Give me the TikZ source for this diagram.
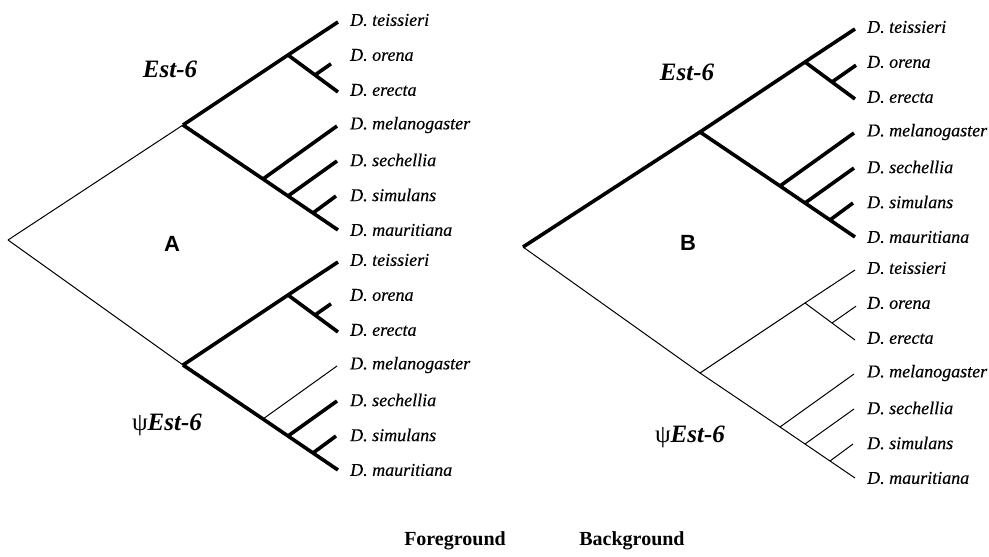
\documentclass[tikz,border=0pt]{standalone}
\usepackage{fontspec}
\setmainfont{Liberation Serif}
\newfontfamily\panelfont{Liberation Sans}
\newfontfamily\taxonfont[FakeBold=0.4]{Liberation Serif}

\tikzset{
  thickbr/.style={line width=3.6pt},
  thinbr/.style={line width=1pt},
  taxon/.style={anchor=west, inner sep=0pt, font=\fontsize{18}{18}\selectfont\taxonfont\itshape},
  gene/.style={inner sep=0pt, font=\fontsize{25}{25}\selectfont\bfseries\itshape},
  panel/.style={inner sep=0pt, font=\fontsize{22}{22}\selectfont\panelfont\bfseries},
  legend/.style={inner sep=0pt, font=\fontsize{20}{20}\selectfont\bfseries}
}

% One seven-taxon clade: #1 name prefix, #2 position of its basal node,
% #3 branch style, #4 style of the melanogaster branch, #5 length of the orena twig
\newcommand\cladeseven[5]{%
  \begin{scope}[shift={#2}]
    \coordinate (#1N)  at (0,0);
    \coordinate (#1U)  at (105,-70);
    \coordinate (#1OE) at (132,-50);
    \coordinate (#1t1) at (155,-103);
    \coordinate (#1t2) at ($(#1OE)+(#5,-0.7*#5)$);
    \coordinate (#1t3) at (155,-33);
    \coordinate (#1M1) at (80,54);
    \coordinate (#1M2) at (105,71);
    \coordinate (#1M3) at (130,88);
    \coordinate (#1t4) at (154,1);
    \coordinate (#1t5) at (154,36);
    \coordinate (#1t6) at (153,71);
    \coordinate (#1t7) at (155,105);
    \draw[#3] (#1N) -- (#1U) -- (#1t1);
    \draw[#3] (#1U) -- (#1OE) -- (#1t3);
    \draw[#3] (#1OE) -- (#1t2);
    \draw[#3] (#1N) -- (#1M1) -- (#1M2) -- (#1M3) -- (#1t7);
    \draw[#4] (#1M1) -- (#1t4);
    \draw[#3] (#1M2) -- (#1t5);
    \draw[#3] (#1M3) -- (#1t6);
    \node[taxon] (#1L1) at (167,-105) {D. teissieri};
    \node[taxon] (#1L2) at (167,-70)  {D. orena};
    \node[taxon] (#1L3) at (167,-35)  {D. erecta};
    \node[taxon] (#1L4) at (167,0)    {D. melanogaster};
    \node[taxon] (#1L5) at (167,35)   {D. sechellia};
    \node[taxon] (#1L6) at (167,70)   {D. simulans};
    \node[taxon] (#1L7) at (167,105)  {D. mauritiana};
  \end{scope}}

\usetikzlibrary{calc}

\begin{document}
\begin{tikzpicture}[x=1pt, y=-1pt]
  \useasboundingbox (0,0) rectangle (989,557);

  % Panel A: foreground branches on both gene copies
  \cladeseven{At}{(183,125)}{thickbr}{thickbr}{16}
  \cladeseven{Ab}{(183,365)}{thickbr}{thinbr}{16}
  \coordinate (Aroot) at (8,240);
  \draw[thinbr] (Aroot) -- (AtN);
  \draw[thinbr] (Aroot) -- (AbN);
  \node[gene]  (AgeneT) at (170,69)  {Est-6};
  \node[gene]  (AgeneB) at (167,425) {{\normalfont\mdseries\upshape ψ}Est-6};
  \node[panel] (Apanel) at (172,244) {A};

  % Panel B: only the Est-6 copy is foreground
  \cladeseven{Bt}{(700,132)}{thickbr}{thickbr}{24}
  \cladeseven{Bb}{(700,373)}{thinbr}{thinbr}{24}
  \coordinate (Broot) at (523,247);
  \draw[thickbr] (Broot) -- (BtN);
  \draw[thinbr]  (Broot) -- (BbN);
  \node[gene]  (BgeneT) at (687,72)  {Est-6};
  \node[gene]  (BgeneB) at (690,437) {{\normalfont\mdseries\upshape ψ}Est-6};
  \node[panel] (Bpanel) at (688,243) {B};

  % key
  \node[legend] (fg) at (455,541) {Foreground};
  \node[legend] (bg) at (632,541) {Background};
\end{tikzpicture}
\end{document}
